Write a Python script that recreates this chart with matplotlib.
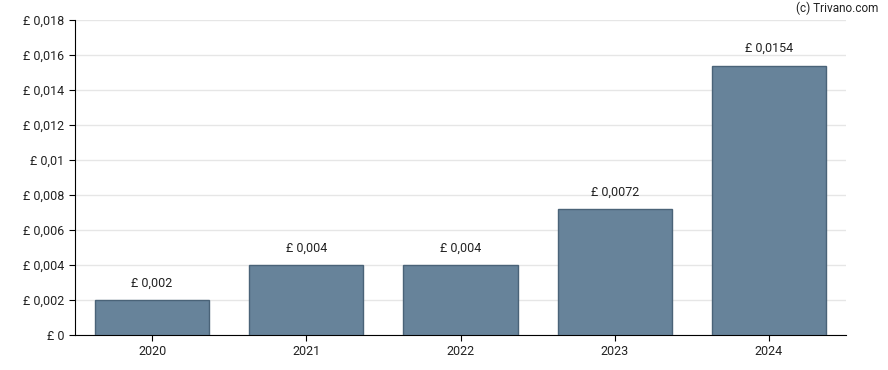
import matplotlib
matplotlib.use("Agg")
import matplotlib.pyplot as plt

years = ["2020", "2021", "2022", "2023", "2024"]
values = [0.002, 0.004, 0.004, 0.0072, 0.0154]
labels = ["£ 0,002", "£ 0,004", "£ 0,004", "£ 0,0072", "£ 0,0154"]
yticks = [0, 0.002, 0.004, 0.006, 0.008, 0.01, 0.012, 0.014, 0.016, 0.018]
ytick_labels = ["£ 0", "£ 0,002", "£ 0,004", "£ 0,006", "£ 0,008", "£ 0,01",
                "£ 0,012", "£ 0,014", "£ 0,016", "£ 0,018"]

plt.rcParams['font.family'] = ['Roboto', 'DejaVu Sans']

fig = plt.figure(figsize=(8.88, 3.7), dpi=100)
ax = fig.add_axes([75/888, 1 - 335/370, (846-75)/888, (335-20)/370])

x = list(range(len(years)))
ax.bar(x, values, width=0.74, color="#67839a", edgecolor="#4a6378", linewidth=1, zorder=3)
for xi, v, l in zip(x, values, labels):
    ax.annotate(l, (xi, v), xytext=(0, 7.5), textcoords="offset points",
                ha="center", va="bottom", fontsize=9, color="#222222")

ax.set_xlim(-0.5, 4.5)
ax.set_ylim(0, 0.018)
ax.set_xticks(x)
ax.set_xticklabels(years, fontsize=9, color="#222222")
ax.set_yticks(yticks)
ax.set_yticklabels(ytick_labels, fontsize=9, color="#222222")
ax.grid(axis="y", color="#e6e6e6", linewidth=1, zorder=0)
ax.set_axisbelow(True)
for s in ["top", "right"]:
    ax.spines[s].set_visible(False)
ax.spines["left"].set_color("black")
ax.spines["bottom"].set_color("black")
ax.tick_params(axis="both", length=4, color="black")

fig.text(878/888, 1 - 8/370, "(c) Trivano.com", ha="right", va="center", fontsize=8.5, color="#222222")

fig.savefig("out.png", dpi=100)
